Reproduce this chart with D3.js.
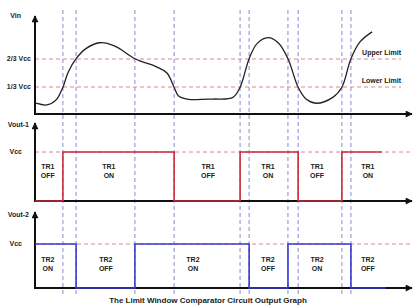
<!DOCTYPE html>
<html><head><meta charset="utf-8">
<script src="https://cdn.jsdelivr.net/npm/d3@7"></script>
<style>body{margin:0;background:#fff}svg{display:block}text{font-family:"Liberation Sans",Arial,sans-serif;font-weight:bold;fill:#222}</style>
</head><body><svg id="c" width="415" height="306"></svg>
<script>
// time (0..100) and value (fraction of Vcc)
const vinT = [0.3,3.2,5.6,7.4,8.8,10.9,13.5,17.2,21.2,26.5,32.4,35.0,36.9,38.0,40.3,47.2,52.5,54.4,56.8,58.9,61.8,64.5,67.1,69.8,71.9,74.5,79.0,81.4,83.8,86.2,89.4];
const vinV = [0.14,0.12,0.18,0.33,0.51,0.67,0.79,0.86,0.82,0.67,0.57,0.50,0.33,0.23,0.19,0.19,0.21,0.33,0.67,0.85,0.92,0.86,0.67,0.33,0.19,0.14,0.21,0.33,0.67,0.87,0.99];
const crossings = [7.4,10.9,26.5,36.9,54.4,56.8,67.1,69.8,81.4,83.8];
const out1T = [0,7.4,36.9,54.4,69.8,81.4,92];
const out1V = [0,1,0,1,0,1,1];
const out2T = [0,10.9,26.5,56.8,67.1,83.8,93];
const out2V = [1,0,1,0,1,0,0];
const tr1Labels = [["TR1","OFF"],["TR1","ON"],["TR1","OFF"],["TR1","ON"],["TR1","OFF"],["TR1","ON"]];
const tr1At = [3.4,19.6,45.9,61.8,74.8,88.3];
const tr2Labels = [["TR2","ON"],["TR2","OFF"],["TR2","ON"],["TR2","OFF"],["TR2","ON"],["TR2","OFF"]];
const tr2At = [3.4,18.8,41.9,61.8,74.8,88.3];
const vinTicks = [1/3, 2/3];
const vinTickLabels = ["1/3 Vcc","2/3 Vcc"];
const limitLabels = ["Lower Limit","Upper Limit"];
const title = "The Limit Window Comparator Circuit Output Graph";

const svg = d3.select("#c");
const x = d3.scaleLinear().domain([0,100]).range([35,412]);
const yIn = d3.scaleLinear().domain([0,1]).range([115,31]);
const y1 = d3.scaleLinear().domain([0,1]).range([201,152]);
const y2 = d3.scaleLinear().domain([0,1]).range([288,244]);

const defs = svg.append("defs");
defs.append("marker").attr("id","ah").attr("viewBox","0 0 10 10").attr("refX",9).attr("refY",5)
  .attr("markerWidth",8).attr("markerHeight",7).attr("markerUnits","userSpaceOnUse").attr("orient","auto")
  .append("path").attr("d","M0,0L10,5L0,10z").attr("fill","#111");

const pink = "#d98a8a", vdash = "#8a8ad0";

// vertical dashed lines
svg.append("g").selectAll("line").data(crossings).join("line")
  .attr("x1",d=>x(d)).attr("x2",d=>x(d)).attr("y1",10).attr("y2",294)
  .attr("stroke",vdash).attr("stroke-width",1).attr("stroke-dasharray","4,3");

// threshold dashed lines
svg.append("g").selectAll("line").data(vinTicks).join("line")
  .attr("x1",x(0)).attr("x2",401).attr("y1",d=>yIn(d)).attr("y2",d=>yIn(d))
  .attr("stroke",pink).attr("stroke-width",1).attr("stroke-dasharray","4,3");
svg.append("line").attr("x1",x(0)).attr("x2",412).attr("y1",y1(1)).attr("y2",y1(1))
  .attr("stroke",pink).attr("stroke-dasharray","4,3");
svg.append("line").attr("x1",x(0)).attr("x2",412).attr("y1",y2(1)).attr("y2",y2(1))
  .attr("stroke",pink).attr("stroke-dasharray","4,3");

// axes
function axes(yTop, yBase){
  svg.append("line").attr("x1",35).attr("x2",35).attr("y1",yBase+1).attr("y2",yTop)
    .attr("stroke","#111").attr("stroke-width",2).attr("marker-end","url(#ah)");
  svg.append("line").attr("x1",34).attr("x2",412).attr("y1",yBase).attr("y2",yBase)
    .attr("stroke","#111").attr("stroke-width",2).attr("marker-end","url(#ah)");
}
axes(16,114); axes(123,201); axes(212,288);

// Vin curve
const vin = vinT.map((t,i)=>[t,vinV[i]]);
svg.append("path").datum(vin)
  .attr("d",d3.line().x(d=>x(d[0])).y(d=>yIn(d[1])).curve(d3.curveCatmullRom.alpha(0.5)))
  .attr("fill","none").attr("stroke","#222").attr("stroke-width",1.3);

// outputs
const step = (ys)=>d3.line().x(d=>x(d[0])).y(d=>ys(d[1])).curve(d3.curveStepAfter);
svg.append("path").datum(out1T.map((t,i)=>[t,out1V[i]])).attr("d",step(y1))
  .attr("fill","none").attr("stroke","#cc2a3a").attr("stroke-width",1.6);
svg.append("path").datum(out2T.map((t,i)=>[t,out2V[i]])).attr("d",step(y2))
  .attr("fill","none").attr("stroke","#3a3ad0").attr("stroke-width",1.6);

// left labels
const lbl = (t,xx,yy,anchor,size)=>svg.append("text").attr("x",xx).attr("y",yy).attr("text-anchor",anchor||"end")
  .attr("dominant-baseline","middle").attr("font-size",size||7).text(t);
lbl("Vin",21,16);
vinTicks.forEach((v,i)=>lbl(vinTickLabels[i],31,yIn(v)));
lbl("Vout-1",29,125);
lbl("Vcc",22,y1(1));
lbl("Vout-2",29,215);
lbl("Vcc",22,y2(1));
vinTicks.forEach((v,i)=>lbl(limitLabels[i],401,yIn(v)-6));

// state labels
function states(labels, at, yc){
  labels.forEach((l,i)=>{
    lbl(l[0],x(at[i]),yc-5,"middle");
    lbl(l[1],x(at[i]),yc+4,"middle");
  });
}
states(tr1Labels,tr1At,172);
states(tr2Labels,tr2At,265);

svg.append("text").attr("x",208).attr("y",301).attr("text-anchor","middle")
  .attr("dominant-baseline","middle").attr("font-size",8).text(title);
</script></body></html>
